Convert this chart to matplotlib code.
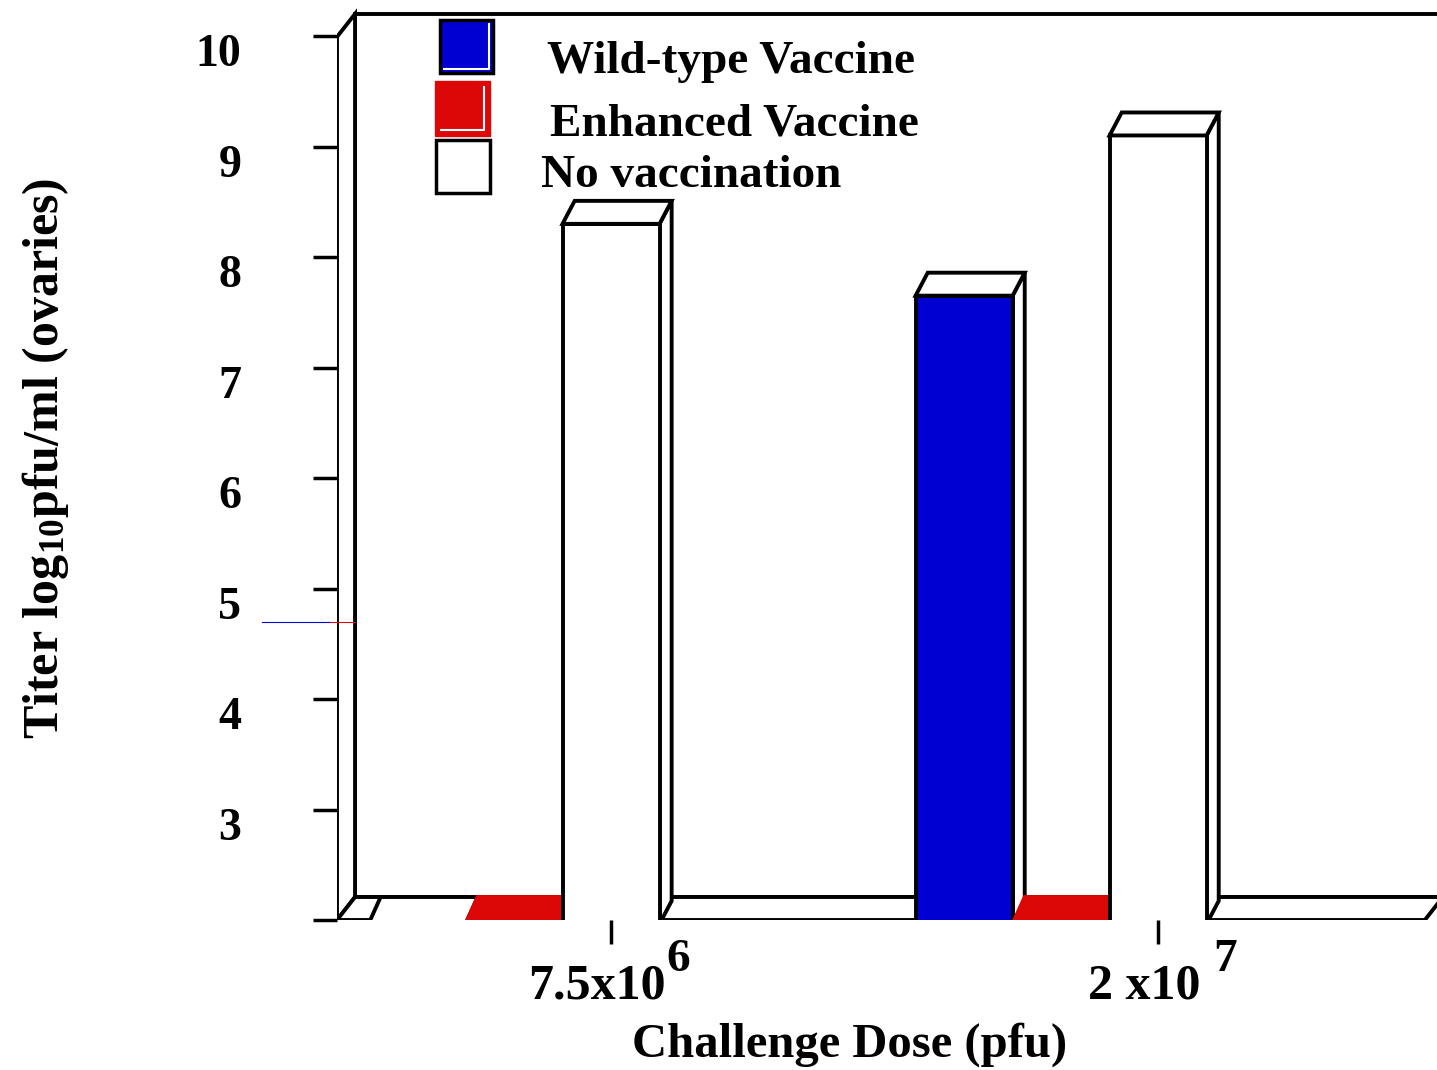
import numpy as np
import matplotlib
matplotlib.use("Agg")
import matplotlib.pyplot as plt
from matplotlib.patches import Polygon, Rectangle
from matplotlib.transforms import ScaledTranslation

plt.rcParams['font.family'] = 'Liberation Serif'
plt.rcParams['font.weight'] = 'bold'
plt.rcParams['mathtext.fontset'] = 'custom'
plt.rcParams['mathtext.rm'] = 'Liberation Serif:bold'
plt.rcParams['mathtext.it'] = 'Liberation Serif:bold'
plt.rcParams['mathtext.bf'] = 'Liberation Serif:bold'

# -----------------------------------------------------------------------------
# Data (log10 pfu/ml, 2 = floor of the axis, nan = not tested)
doses = ['7.5x10', '2 x10']
dose_exponents = ['6', '7']
series_names = ['Wild-type Vaccine', 'Enhanced Vaccine', 'No vaccination']
wild_type = [np.nan, 7.65]
enhanced = [2.0, 2.0]
no_vaccination = [8.3, 9.1]
y_ticks = [2, 3, 4, 5, 6, 7, 8, 9, 10]
y_tick_labels = ['', '3', '4', '5', '6', '7', '8', '9', '10']
detection_limit = 4.7

# -----------------------------------------------------------------------------
# Style
W, H = 1437, 1070
blue = '#0000d2'
red = '#dc0808'
floor = 2.0
bar_w = 1.0
bar_dx, bar_dy = 0.125, 0.208      # depth of a bar
wall_dx, wall_dy = 0.186, 0.208    # depth of the floor / side wall
lw = 2.8
group_start = [0.0, 5.64]
series = [(wild_type, blue, 'black'), (enhanced, red, red), (no_vaccination, 'white', 'black')]

fig = plt.figure(figsize=(W / 100, H / 100), dpi=100)
ax = fig.add_axes([337 / W, 150 / H, 1100 / W, 912 / H])
x_left = -0.825
ax.set_xlim(x_left, x_left + 1100 / 97)
ax.set_ylim(floor, floor + 912 / 110.5)
for s in ax.spines.values():
    s.set_visible(False)

y_top = 10.2
x_right = 10.39
# back wall
ax.add_patch(Polygon([(x_left + wall_dx, floor + wall_dy), (x_left + wall_dx, y_top),
                      (x_right + 1, y_top), (x_right + 1, floor + wall_dy)],
                     closed=True, fc='white', ec='black', lw=lw, zorder=1))
# side wall
ax.add_patch(Polygon([(x_left, floor), (x_left, y_top - wall_dy),
                      (x_left + wall_dx, y_top), (x_left + wall_dx, floor + wall_dy)],
                     closed=True, fc='white', ec='black', lw=lw, zorder=2))
# floor
ax.add_patch(Polygon([(x_left, floor), (x_right, floor),
                      (x_right + wall_dx, floor + wall_dy), (x_left + wall_dx, floor + wall_dy)],
                     closed=True, fc='white', ec='black', lw=lw, zorder=2))


def bar3d(xc, val, color, edge, z):
    x0, x1 = xc - bar_w / 2, xc + bar_w / 2
    empty = np.isnan(val) or val <= floor
    top = floor if np.isnan(val) else val
    top_color = 'white' if np.isnan(val) else (color if empty else 'white')
    base = floor - 0.035
    if not empty:
        ax.add_patch(Polygon([(x1, base), (x1 + bar_dx, base + bar_dy), (x1 + bar_dx, top + bar_dy), (x1, top)],
                             closed=True, fc='white', ec='black', lw=lw, zorder=z))
        ax.add_patch(Rectangle((x0, base), bar_w, top - base, fc=color, ec=edge, lw=lw, zorder=z))
        ax.add_patch(Polygon([(x0, top), (x1, top), (x1 + bar_dx, top + bar_dy), (x0 + bar_dx, top + bar_dy)],
                             closed=True, fc=top_color, ec='black', lw=lw, zorder=z))
    else:
        ax.add_patch(Polygon([(x0, base), (x1, base), (x1 + bar_dx, top + bar_dy), (x0 + bar_dx, top + bar_dy)],
                             closed=True, fc=top_color, ec=edge, lw=lw, zorder=z))


z = 3
for g, start in enumerate(group_start):
    for i, (vals, color, edge) in enumerate(series):
        bar3d(start + i, vals[g], color, edge, z)
        z += 1

# detection limit stub on the left
ax.plot([-1.598, -0.897], [detection_limit] * 2, color=blue, lw=0.8, clip_on=False, zorder=20)
ax.plot([-0.897, -0.639], [detection_limit] * 2, color=red, lw=0.8, clip_on=False, zorder=20)

# ticks
ax.set_yticks(y_ticks)
ax.set_yticklabels(y_tick_labels, fontsize=33)
ax.tick_params(axis='y', length=17, width=2.5, pad=52)
for lab in ax.get_yticklabels():
    lab.set_transform(lab.get_transform() + ScaledTranslation(0, -0.14, fig.dpi_scale_trans))

tick_pos = [s + 2 for s in group_start]
ax.set_xticks(tick_pos)
ax.set_xticklabels(doses, fontsize=36)
ax.tick_params(axis='x', length=17, width=2.5, pad=14)
for lab in ax.get_xticklabels():
    lab.set_transform(lab.get_transform() + ScaledTranslation(-0.14, 0, fig.dpi_scale_trans))
for tp, ex in zip(tick_pos, dose_exponents):
    ax.annotate(ex, xy=(tp, 0), xycoords=ax.get_xaxis_transform(), xytext=(40, -14),
                textcoords='offset points', ha='left', va='top', fontsize=34)

fig.text(850 / W, 1 - 1045 / H, 'Challenge Dose (pfu)', ha='center', va='center', fontsize=35)
fig.text(46 / W, 1 - 458 / H, r'Titer log$_{10}$pfu/ml (ovaries)', ha='center', va='center',
         rotation=90, fontsize=36)

# legend
def fig_rect(x0, y0, x1, y1, **kw):
    fig.add_artist(Rectangle((x0 / W, 1 - y1 / H), (x1 - x0) / W, (y1 - y0) / H,
                             transform=fig.transFigure, **kw))


def fig_line(xs, ys, **kw):
    fig.add_artist(plt.Line2D([x / W for x in xs], [1 - y / H for y in ys],
                              transform=fig.transFigure, **kw))


fig_rect(440, 20, 493, 73, fc=blue, ec='black', lw=2.5)
fig_line([444, 489, 489], [69, 69, 24], color='white', lw=1.5)
fig_rect(435, 81, 490, 136, fc=red, ec=red, lw=1)
fig_line([441, 484, 484], [130, 130, 87], color='white', lw=1.5)
fig_rect(436, 140, 490, 193, fc='white', ec='black', lw=2.5)
for name, x, y in zip(series_names, [547, 550, 541], [62, 125, 176]):
    fig.text(x / W, 1 - y / H, name, ha='left', va='center', fontsize=34)

fig.savefig('out.png', dpi=100)
